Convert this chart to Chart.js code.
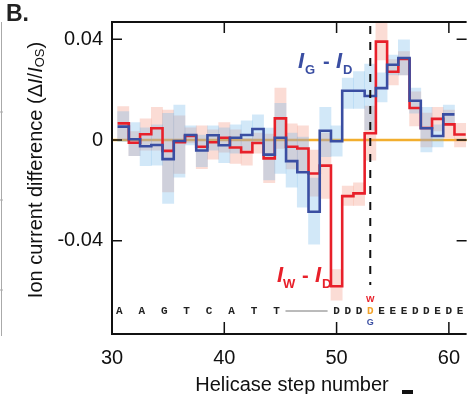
<!DOCTYPE html>
<html><head><meta charset="utf-8">
<script src="https://cdn.jsdelivr.net/npm/chart.js@4"></script>
<style>html,body{margin:0;padding:0;overflow:hidden;background:#fff}#c{display:block}</style>
</head><body><canvas id="c" width="472" height="394"></canvas>
<script>
// ---- data ----
const redSteps  = [31,32,33,34,35,36,37,38,39,40,41,42,43,44,45,46,47,48,49,50,51,52,53,54,55,56,57,58,59,60,61];
const redValues = [0.0066,-0.0011,0.0023,0.0047,-0.0043,-0.0009,0.0016,-0.0027,-0.0009,0.0009,-0.0030,-0.0048,-0.0012,-0.0073,0.0086,-0.0027,-0.0034,-0.0133,-0.0102,-0.0581,-0.0223,-0.0212,0.0027,0.0391,0.0271,0.0322,0.0127,0.0048,0.0084,0.0062,0.0022];
const redHigh   = [0.0133,0.0033,0.0084,0.0130,0.0119,0.0096,0.0048,0.0056,0.0040,0.0069,0.0040,0.0008,0.0028,0.0024,0.0206,0.0064,0.0056,-0.0040,0.0028,-0.0515,-0.0183,-0.0170,0.0135,0.0464,0.0320,0.0351,0.0191,0.0107,0.0130,0.0119,0.0066];
const redLow    = [0.0000,-0.0062,-0.0040,-0.0040,-0.0206,-0.0133,-0.0012,-0.0114,-0.0076,-0.0048,-0.0093,-0.0100,-0.0052,-0.0170,-0.0033,-0.0115,-0.0127,-0.0223,-0.0232,-0.0637,-0.0260,-0.0260,-0.0080,0.0318,0.0219,0.0259,0.0056,-0.0027,0.0036,0.0008,-0.0027];

const blueSteps  = [31,32,33,34,35,36,37,38,39,40,41,42,43,44,45,46,47,48,49,50,51,52,53,54,55,56,57,58,59,60];
const blueValues = [0.0053,0.0003,-0.0025,-0.0020,-0.0076,-0.0004,0.0020,-0.0042,0.0019,-0.0021,0.0009,0.0020,0.0044,-0.0058,0.0009,-0.0084,-0.0128,-0.0285,0.0037,-0.0005,0.0196,0.0196,0.0175,0.0206,0.0299,0.0326,0.0156,0.0047,0.0016,0.0102];
const blueHigh   = [0.0113,0.0069,0.0048,0.0060,0.0106,0.0139,0.0056,0.0020,0.0056,0.0048,0.0060,0.0076,0.0100,0.0047,0.0146,0.0028,0.0012,-0.0151,0.0130,0.0056,0.0246,0.0272,0.0302,0.0267,0.0338,0.0398,0.0206,0.0130,0.0060,0.0139];
const blueLow    = [-0.0007,-0.0062,-0.0102,-0.0100,-0.0252,-0.0148,-0.0020,-0.0106,-0.0040,-0.0090,-0.0052,-0.0040,-0.0012,-0.0159,-0.0133,-0.0187,-0.0267,-0.0414,-0.0066,-0.0064,0.0126,0.0126,0.0040,0.0151,0.0259,0.0259,0.0107,-0.0047,-0.0027,0.0060];

const xTicks = [30,40,50,60];
const yTicks = [-0.04,0,0.04];
const seqLeft  = ['A','A','G','T','C','A','T','T'];
const seqRight = ['D','D','D','D','E','E','E','D','D','E','D','E'];
const markedStep = 53;

// ---- helpers ----
const FONT = "'Liberation Sans', Arial, Helvetica, sans-serif";
function stepLine(steps, vals){
  const out=[];
  steps.forEach((s,i)=>{ out.push({x:s-0.5,y:vals[i]}); out.push({x:s+0.5,y:vals[i]}); });
  return out;
}
function bands(steps, lo, hi){ return steps.map((s,i)=>({x:s,y:[lo[i],hi[i]]})); }
function rich(ctx, x, y, parts){
  parts.forEach(p=>{ ctx.font=p.font; ctx.fillStyle=p.color; ctx.textBaseline='alphabetic'; ctx.textAlign='left'; ctx.fillText(p.t, x+p.dx, y+(p.dy||0)); });
}

const deco = {
  id:'deco',
  beforeDatasetsDraw(chart){
    const {ctx, chartArea:a, scales:{y}} = chart;
    ctx.save();
    ctx.strokeStyle='#f2ae2e'; ctx.lineWidth=2.5;
    const y0=y.getPixelForValue(0);
    ctx.beginPath(); ctx.moveTo(a.left,y0); ctx.lineTo(a.right,y0); ctx.stroke();
    ctx.restore();
  },
  afterDraw(chart){
    const {ctx, chartArea:a, scales:{x,y}} = chart;
    ctx.save();
    // frame
    ctx.strokeStyle='#111'; ctx.lineWidth=2;
    ctx.beginPath();
    ctx.moveTo(a.left,a.top); ctx.lineTo(a.right,a.top);
    ctx.moveTo(a.left,a.top-1); ctx.lineTo(a.left,a.bottom+1);
    ctx.moveTo(a.left,a.bottom); ctx.lineTo(a.right,a.bottom);
    ctx.stroke();
    ctx.lineWidth=1.5;
    ctx.beginPath();
    xTicks.forEach(v=>{ if(v===x.min) return; const px=x.getPixelForValue(v);
      ctx.moveTo(px,a.top); ctx.lineTo(px,a.top+11);
      ctx.moveTo(px,a.bottom); ctx.lineTo(px,a.bottom-12); });
    yTicks.forEach(v=>{ const py=y.getPixelForValue(v);
      ctx.moveTo(a.left,py); ctx.lineTo(a.left+10,py);
      ctx.moveTo(a.right,py); ctx.lineTo(a.right-10,py); });
    ctx.stroke();
    // dashed marker line
    const mx=x.getPixelForValue(markedStep);
    ctx.setLineDash([8,8]); ctx.lineWidth=2; ctx.strokeStyle='#111';
    ctx.beginPath(); ctx.moveTo(mx,a.top+4); ctx.lineTo(mx,285); ctx.stroke();
    ctx.setLineDash([]);
    // sequence
    ctx.font="bold 11px 'Liberation Mono', 'DejaVu Sans Mono', monospace";
    ctx.textAlign='center'; ctx.textBaseline='middle';
    const sy=311;
    seqLeft.forEach((c,i)=>{ ctx.fillStyle='#222'; ctx.fillText(c, x.getPixelForValue(30.65+2*i), sy); });
    seqRight.forEach((c,i)=>{ const st=50+i; ctx.fillStyle = st===markedStep ? '#f2a22a' : '#222'; ctx.fillText(c, x.getPixelForValue(st), sy); });
    ctx.strokeStyle='#777'; ctx.lineWidth=1;
    ctx.beginPath(); ctx.moveTo(x.getPixelForValue(45.45),sy); ctx.lineTo(x.getPixelForValue(49.2),sy); ctx.stroke();
    ctx.font="bold 9px "+FONT;
    ctx.fillStyle='#e8202a'; ctx.fillText('W', mx, 300);
    ctx.fillStyle='#3a4ea2'; ctx.fillText('G', mx, 323);
    // series labels
    const bI="italic bold 22px "+FONT, bS="bold 13px "+FONT, bD="bold 20px "+FONT;
    rich(ctx, 298, 68, [
      {t:'I',font:bI,color:'#3a4ea2',dx:0},{t:'G',font:bS,color:'#3a4ea2',dx:7,dy:6},
      {t:'-',font:bD,color:'#3a4ea2',dx:25},{t:'I',font:bI,color:'#3a4ea2',dx:38},{t:'D',font:bS,color:'#3a4ea2',dx:45,dy:6}]);
    rich(ctx, 277, 282, [
      {t:'I',font:bI,color:'#e8202a',dx:0},{t:'W',font:bS,color:'#e8202a',dx:6,dy:6},
      {t:'-',font:bD,color:'#e8202a',dx:25},{t:'I',font:bI,color:'#e8202a',dx:38},{t:'D',font:bS,color:'#e8202a',dx:45,dy:6}]);
    // panel letter
    ctx.font="bold 23px "+FONT; ctx.fillStyle='#222'; ctx.textAlign='left'; ctx.textBaseline='alphabetic';
    ctx.fillText('B.', 6, 21);
    // y axis title (rotated)
    const parts=[
      {t:'Ion current difference (\u0394',font:"20px "+FONT,dy:0},
      {t:'I',font:"italic 20px "+FONT,dy:0},
      {t:'/',font:"20px "+FONT,dy:0},
      {t:'I',font:"italic 20px "+FONT,dy:0},
      {t:'OS',font:"13px "+FONT,dy:2},
      {t:')',font:"20px "+FONT,dy:0}];
    let tw=0; parts.forEach(p=>{ctx.font=p.font; p.w=ctx.measureText(p.t).width; tw+=p.w;});
    ctx.translate(42,170); ctx.rotate(-Math.PI/2);
    let cx=-tw/2; ctx.fillStyle='#111';
    parts.forEach(p=>{ctx.font=p.font; ctx.fillText(p.t,cx,p.dy); cx+=p.w;});
    ctx.restore();
    // x axis title
    ctx.save();
    ctx.font="20px "+FONT; ctx.fillStyle='#111'; ctx.textAlign='center'; ctx.textBaseline='alphabetic';
    ctx.fillText('Helicase step number', 292, 391);
    ctx.fillStyle='#111'; ctx.fillRect(402,390,11,4);
    // neighbouring panel edge
    ctx.strokeStyle='#aaa'; ctx.lineWidth=1;
    ctx.beginPath(); ctx.moveTo(1.5,22); ctx.lineTo(1.5,336);
    [112,200,290].forEach(t=>{ctx.moveTo(0,t); ctx.lineTo(3,t);});
    ctx.stroke();
    ctx.restore();
  }
};

new Chart(document.getElementById('c'), {
  type:'line',
  data:{ datasets:[
    {type:'bar', data:bands(redSteps,redLow,redHigh), backgroundColor:'rgba(244,150,128,0.33)', borderWidth:0, grouped:false, barPercentage:1, categoryPercentage:1, order:6},
    {type:'bar', data:bands(blueSteps,blueLow,blueHigh), backgroundColor:'rgba(105,180,232,0.30)', borderWidth:0, grouped:false, barPercentage:1, categoryPercentage:1, order:5},
    {type:'line', data:stepLine(redSteps,redValues), borderColor:'#e8202a', borderWidth:2.6, pointRadius:0, fill:false, tension:0, order:2},
    {type:'line', data:stepLine(blueSteps,blueValues), borderColor:'#3a4ea2', borderWidth:2.6, pointRadius:0, fill:false, tension:0, order:1}
  ]},
  options:{
    responsive:false, animation:false, devicePixelRatio:1,
    layout:{padding:{top:22,left:0,right:0,bottom:0}},
    plugins:{legend:{display:false}, tooltip:{enabled:false}},
    scales:{
      x:{type:'linear', min:30, max:61.58, offset:false,
        grid:{display:false, drawTicks:false}, border:{display:false},
        ticks:{font:{family:FONT,size:20}, color:'#111', padding:12, maxRotation:0, autoSkip:false},
        afterBuildTicks:s=>{s.ticks=xTicks.map(v=>({value:v}));},
        afterFit:s=>{s.height=60;}},
      y:{type:'linear', min:-0.0771, max:0.0469,
        grid:{display:false, drawTicks:false}, border:{display:false},
        ticks:{font:{family:FONT,size:20}, color:'#111', padding:9,
          callback:v=> v===0 ? '0' : v.toFixed(2)},
        afterBuildTicks:s=>{s.ticks=yTicks.map(v=>({value:v}));},
        afterFit:s=>{s.width=112;}}
    }
  },
  plugins:[deco]
});
</script>
</body></html>
